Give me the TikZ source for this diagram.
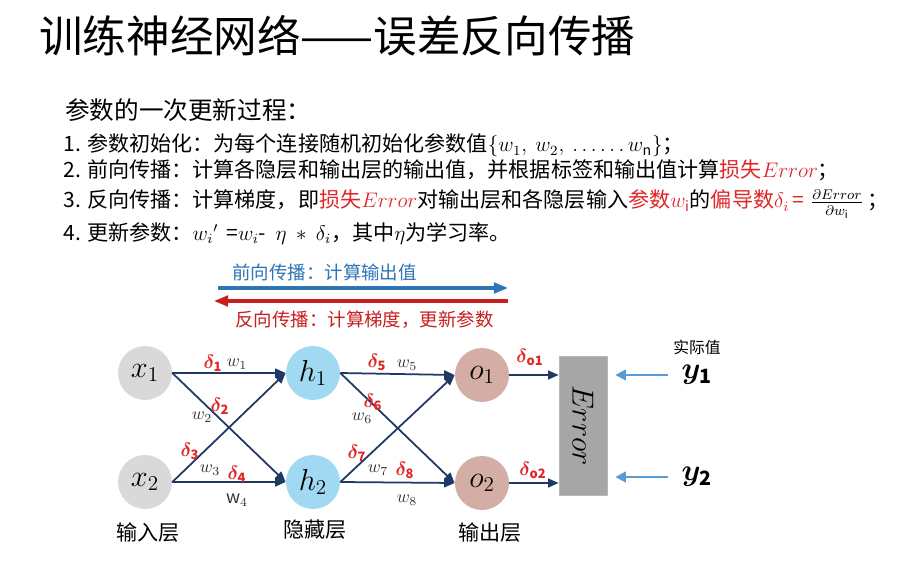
\documentclass[tikz,border=0pt]{standalone}
\usepackage{fontspec}
\setmainfont{Noto Sans CJK SC}
\usepackage{amsmath,bm}
\usepackage{graphicx}
\usetikzlibrary{arrows.meta}
\definecolor{navy}{HTML}{1F3864}
\definecolor{xgray}{HTML}{D9D9D9}
\definecolor{hblue}{HTML}{A0D9F1}
\definecolor{obrown}{HTML}{D4ADA4}
\definecolor{errgray}{HTML}{A6A6A6}
\definecolor{fwblue}{HTML}{2E75B6}
\definecolor{bwred}{HTML}{C81E1E}
\definecolor{txred}{HTML}{E02626}
\definecolor{ylblue}{HTML}{5B9BD5}
\definecolor{wgray}{HTML}{333333}
\newcommand{\myd}[1]{$\bm{\delta}_{\mathbf{#1}}$}
\newcommand{\rd}[1]{\textcolor{txred}{#1}}
\begin{document}
\begin{tikzpicture}[x=0.02cm,y=-0.02cm,
  neuron/.style={circle, minimum size=1.08cm, inner sep=0pt, font=\fontsize{17}{20}\selectfont},
  xnode/.style={neuron, fill=xgray},
  hnode/.style={neuron, fill=hblue},
  onode/.style={neuron, fill=obrown},
  edge/.style={draw=navy, line width=1pt, -{Triangle[length=6pt,width=5pt]}},
  yedge/.style={draw=ylblue, line width=1.4pt, -{Triangle[length=6pt,width=6pt]}},
  dlab/.style={text=txred, font=\fontsize{10.5}{12}\selectfont, inner sep=0pt},
  wlab/.style={text=wgray, font=\fontsize{10}{11}\selectfont, inner sep=0pt},
  line/.style={anchor=base west, inner sep=0pt, font=\fontsize{12}{14}\selectfont},
  layer/.style={font=\fontsize{12}{14}\selectfont, inner sep=0pt}
]
\useasboundingbox (0,0) rectangle (900,581);
\fill[white] (0,0) rectangle (900,581);

% title and text
\node[anchor=base west, inner sep=0pt, font=\fontsize{24.8}{28}\selectfont] (title) at (39,53) {训练神经网络——误差反向传播};
\node[anchor=base west, inner sep=0pt, font=\fontsize{14}{16}\selectfont] (sub) at (65,120) {参数的一次更新过程：};
\node[line] (l1) at (63,152) {1. 参数初始化：为每个连接随机初始化参数值$\{w_1,\ w_2,\ \ldots\ldots w_{\mathrm{n}}\}$；};
\node[line] (l2) at (63,177) {2. 前向传播：计算各隐层和输出层的输出值，并根据标签和输出值计算\rd{损失$Error$}；};
\node[line] (l3) at (63,208) {3. 反向传播：计算梯度，即\rd{损失$Error$}对输出层和各隐层输入\rd{参数$w_{\mathrm{i}}$}的\rd{偏导数$\delta_i$\,=}\;$\frac{\partial Error}{\partial w_{\mathrm{i}}}$\,；};
\node[line] (l4) at (63,240) {4. 更新参数：$w_i{}'$\ \,=$w_i$-\ \ $\eta\ *\ \delta_i$，其中$\eta$为学习率。};

% forward / backward arrows
\node[anchor=west, inner sep=0pt, text=fwblue, font=\fontsize{10.5}{12}\selectfont] (fwt) at (232,272) {前向传播：计算输出值};
\coordinate (fa) at (218,288);
\coordinate (fb) at (508,288);
\draw[fwblue, line width=1.8pt, -{Triangle[length=8pt,width=6pt]}] (fa) -- (fb);
\coordinate (ba) at (508,301);
\coordinate (bb) at (214,301);
\draw[bwred, line width=1.8pt, -{Triangle[length=8pt,width=6pt]}] (ba) -- (bb);
\node[anchor=west, inner sep=0pt, text=bwred, font=\fontsize{10.5}{12}\selectfont] (bwt) at (235,320) {反向传播：计算梯度，更新参数};

% neurons
\node[xnode] (x1) at (145,373) {$x_1$};
\node[xnode] (x2) at (145,482) {$x_2$};
\node[hnode] (h1) at (313,373) {$h_1$};
\node[hnode] (h2) at (313,482) {$h_2$};
\node[onode] (o1) at (482,375) {$o_1$};
\node[onode] (o2) at (482,483) {$o_2$};
\node[fill=errgray, draw=errgray!80!white, minimum width=0.96cm, minimum height=2.78cm, inner sep=0pt, font=\fontsize{16}{18}\selectfont] (err) at (583,425.5) {\rotatebox{-90}{$Error$}};

% edges
\draw[edge] (x1.east) -- (h1.west);
\draw[edge] (x1.east) -- (h2.west);
\draw[edge] (x2.east) -- (h1.west);
\draw[edge] (x2.east) -- (h2.west);
\draw[edge] (h1.east) -- (o1.west);
\draw[edge] (h1.east) -- (o2.west);
\draw[edge] (h2.east) -- (o1.west);
\draw[edge] (h2.east) -- (o2.west);
\draw[edge] (o1.east) -- (o1.east -| err.west);
\draw[edge] (o2.east) -- (o2.east -| err.west);

% edge labels
\node[dlab] (d1) at (213,363) {\myd{1}};
\node[wlab] (w1) at (237,364) {$w_1$};
\node[dlab] (d2) at (220,406) {\myd{2}};
\node[wlab] (w2) at (202,417) {$w_2$};
\node[dlab] (d3) at (190,451) {\myd{3}};
\node[wlab] (w3) at (210,470) {$w_3$};
\node[dlab] (d4) at (237,474) {\myd{4}};
\node[wlab] (w4) at (237,500) {$\mathrm{w}_4$};
\node[dlab] (d5) at (377,362) {\myd{5}};
\node[wlab] (w5) at (407,365) {$w_5$};
\node[dlab] (d6) at (373,402) {\myd{6}};
\node[wlab] (w6) at (362,418) {$w_6$};
\node[dlab] (d7) at (357,453) {\myd{7}};
\node[wlab] (w7) at (378,470) {$w_7$};
\node[dlab] (d8) at (405,470) {\myd{8}};
\node[wlab] (w8) at (407,500) {$w_8$};
\node[dlab] (do1) at (530,357) {\myd{o1}};
\node[dlab] (do2) at (533,470) {\myd{o2}};

% actual values
\node[font=\fontsize{9}{11}\selectfont, inner sep=0pt] (act) at (697,347) {实际值};
\node[font=\fontsize{16}{18}\selectfont, inner sep=2pt] (y1) at (697,375) {$\bm{y}_{\mathbf{1}}$};
\node[font=\fontsize{16}{18}\selectfont, inner sep=2pt] (y2) at (697,477) {$\bm{y}_{\mathbf{2}}$};
\draw[yedge, shorten <=0.2cm, shorten >=0.16cm] (y1.west) -- (y1.west -| err.east);
\draw[yedge, shorten <=0.2cm, shorten >=0.16cm] (y2.west) -- (y2.west -| err.east);

% layer labels
\node[layer] (lin) at (148,533) {输入层};
\node[layer] (lhid) at (315,530) {隐藏层};
\node[layer] (lout) at (490,533) {输出层};
\end{tikzpicture}
\end{document}
